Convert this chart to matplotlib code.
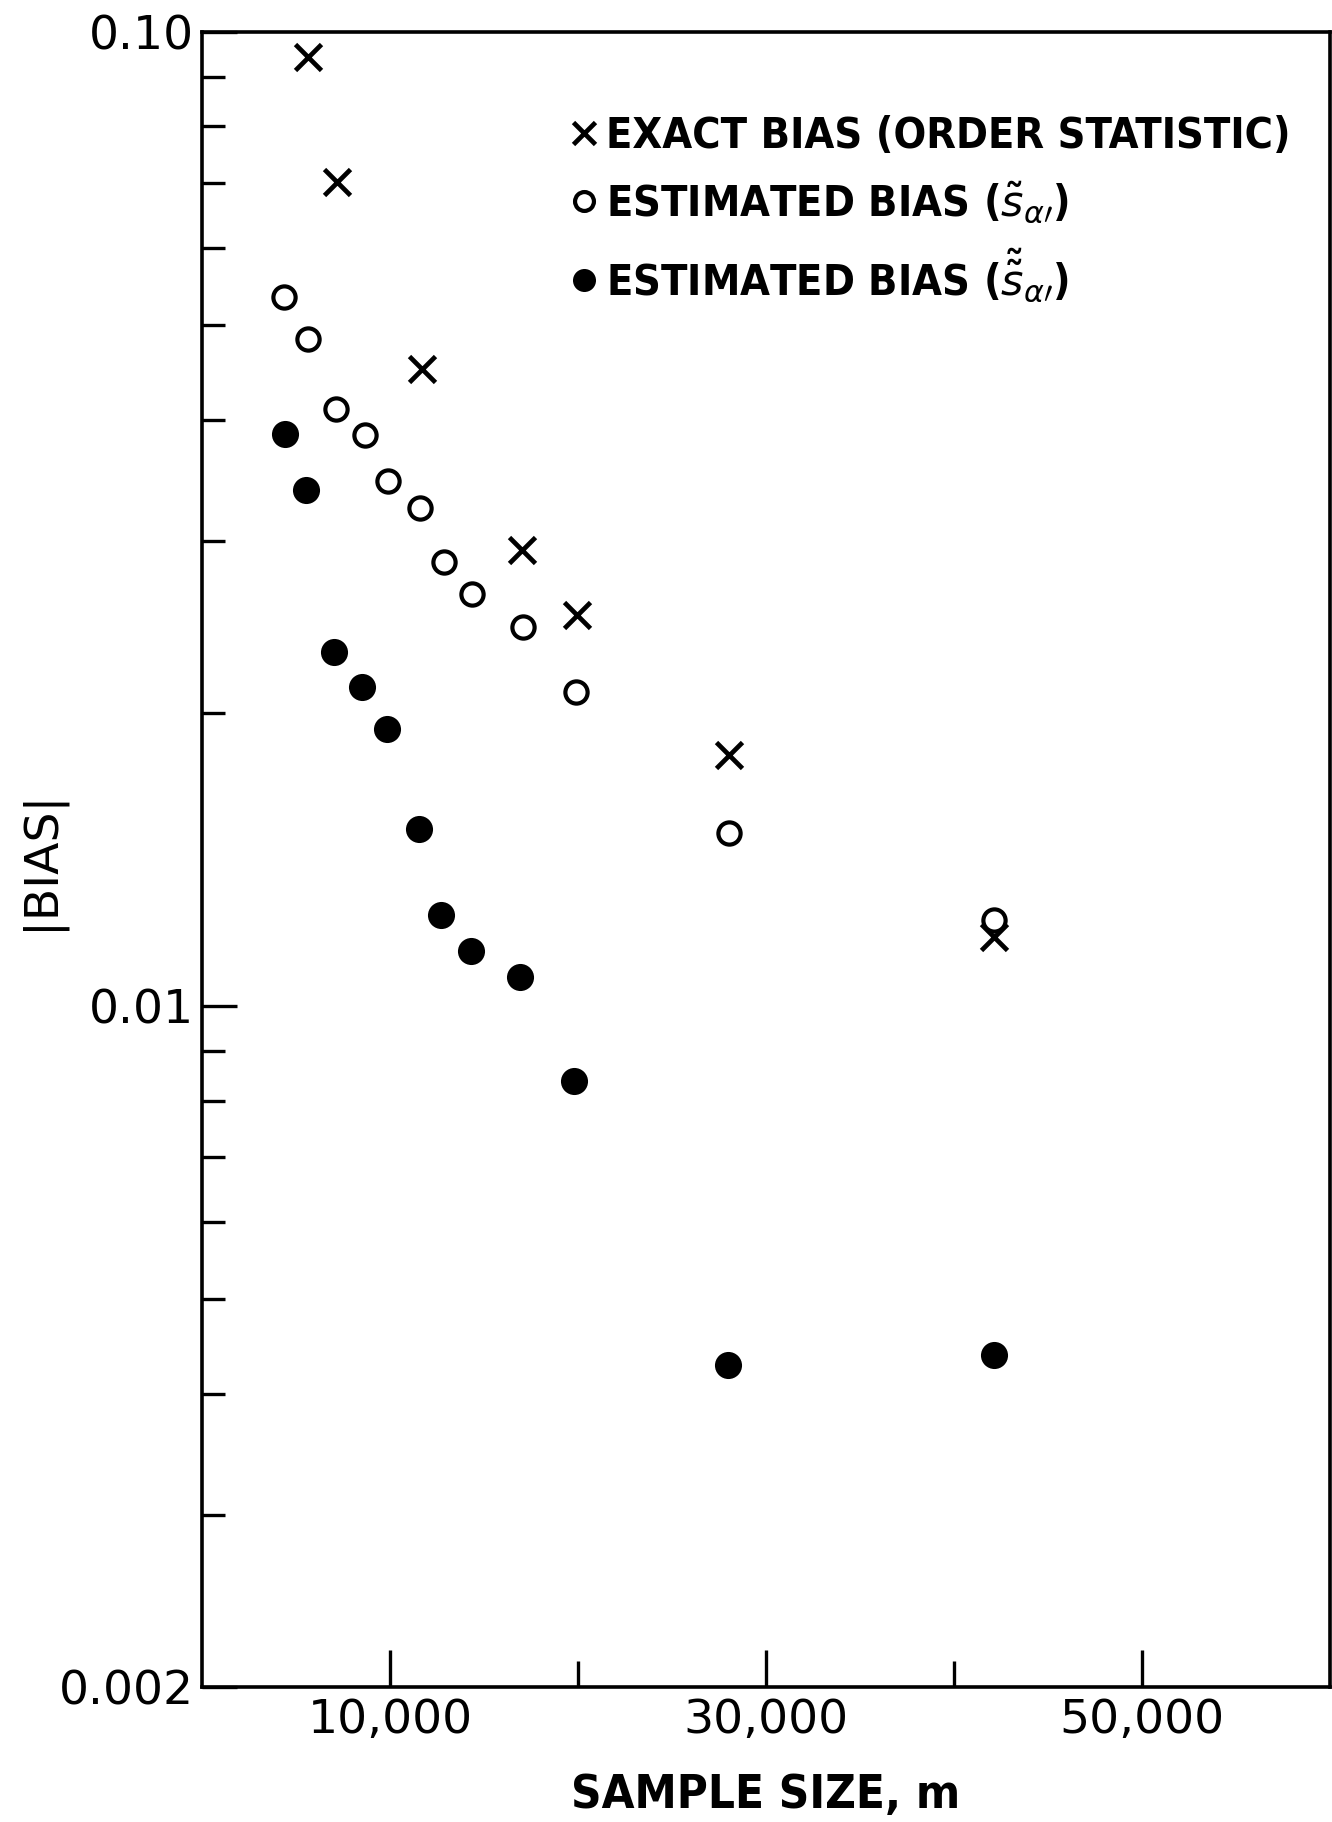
import numpy as np
import matplotlib
matplotlib.use("Agg")
import matplotlib.pyplot as plt
from matplotlib.ticker import FixedLocator, NullFormatter
from matplotlib import font_manager

# exact bias (order statistic), crosses
exact_m = [5650, 7190, 11700, 17000, 19970, 28040, 42150]
exact_bias = [0.0942, 0.0702, 0.0451, 0.0294, 0.0252, 0.0181, 0.01178]

# estimated bias, single tilde (open circles)
est1_m = [4380, 5650, 7135, 8670, 9890, 11590, 12860, 14350, 17060, 19870, 28040, 42150]
est1_bias = [0.0534, 0.0484, 0.0410, 0.0386, 0.0346, 0.0325, 0.0286, 0.0265,
             0.0245, 0.0210, 0.01507, 0.01225]

# estimated bias, double tilde (filled circles)
est2_m = [4430, 5540, 7030, 8510, 9840, 11540, 12700, 14300, 16900, 19760, 27980, 42100]
est2_bias = [0.0387, 0.0339, 0.0231, 0.02126, 0.01925, 0.0152, 0.0124, 0.01139,
             0.01071, 0.00837, 0.00428, 0.00438]

labels = ["EXACT BIAS (ORDER STATISTIC)",
          r"ESTIMATED BIAS ($\tilde{s}_{\alpha\prime}$)",
          r"ESTIMATED BIAS ($\tilde{\tilde{s}}_{\alpha\prime}$)"]

y_major = [0.002, 0.01, 0.1]
y_major_labels = ["0.002", "0.01", "0.10"]
y_minor = [0.003, 0.004, 0.005, 0.006, 0.007, 0.008, 0.009,
           0.02, 0.03, 0.04, 0.05, 0.06, 0.07, 0.08, 0.09]
x_major = [10000, 30000, 50000]
x_major_labels = ["10,000", "30,000", "50,000"]
x_minor = [20000, 40000]

# condensed bold lettering for the legend and axis title
cond = font_manager.FontProperties(family="DejaVu Sans", stretch="condensed",
                                   weight="bold", size=31)
cond_x = font_manager.FontProperties(family="DejaVu Sans", stretch="condensed",
                                     weight="bold", size=34)

fig = plt.figure(figsize=(13.32, 18.22), dpi=100)
ax = fig.add_axes([0.1517, 0.0741, 0.8468, 0.9083])

ax.plot(exact_m, exact_bias, ls="none", marker="x", ms=19, mew=3.4, color="black",
        label=labels[0])
ax.plot(est1_m, est1_bias, ls="none", marker="o", ms=16, mew=3.0, mfc="none",
        mec="black", label=labels[1])
ax.plot(est2_m, est2_bias, ls="none", marker="o", ms=19.5, mew=0, color="black",
        label=labels[2])

ax.set_yscale("log")
ax.set_xlim(0, 60000)
ax.set_ylim(0.002, 0.1)

ax.yaxis.set_major_locator(FixedLocator(y_major))
ax.set_yticklabels(y_major_labels)
ax.yaxis.set_minor_locator(FixedLocator(y_minor))
ax.yaxis.set_minor_formatter(NullFormatter())
ax.xaxis.set_major_locator(FixedLocator(x_major))
ax.set_xticklabels(x_major_labels)
ax.xaxis.set_minor_locator(FixedLocator(x_minor))

ax.tick_params(axis="both", which="both", direction="in", color="black",
               labelsize=34, width=2.4, right=False, top=False)
ax.tick_params(axis="y", which="major", length=25, pad=6)
ax.tick_params(axis="y", which="minor", length=16.5)
ax.tick_params(axis="x", which="major", length=27, pad=8)
ax.tick_params(axis="x", which="minor", length=19)

for s in ax.spines.values():
    s.set_linewidth(2.6)

ax.set_xlabel("SAMPLE SIZE, m", fontproperties=cond_x)
ax.set_ylabel("|BIAS|", fontsize=34)
ax.xaxis.set_label_coords(0.5, -0.052)
ax.yaxis.set_label_coords(-0.122, 0.5)

leg = ax.legend(loc="upper left", bbox_to_anchor=(0.31, 0.96), frameon=False,
                handlelength=0.7, handletextpad=0.15, labelspacing=0.5,
                markerscale=0.85, borderaxespad=0, prop=cond)

fig.savefig("out.png", dpi=100, facecolor="white")
plt.close(fig)
